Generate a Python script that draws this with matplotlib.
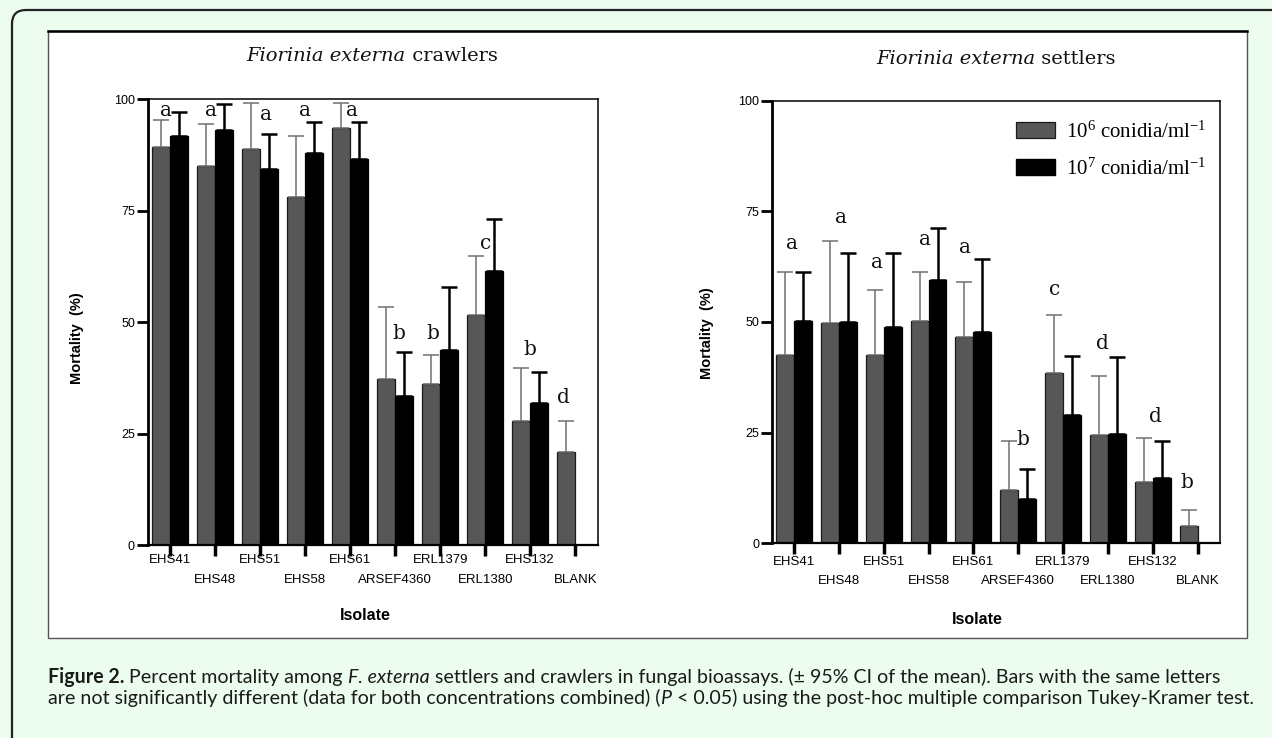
import matplotlib
matplotlib.use('Agg')
import matplotlib.pyplot as plt
import numpy as np
from matplotlib.transforms import IdentityTransform, blended_transform_factory, ScaledTranslation
import matplotlib.patches as mpatches
from matplotlib.lines import Line2D

plt.rcParams['mathtext.fontset'] = 'custom'
plt.rcParams['mathtext.rm'] = 'Liberation Serif'
plt.rcParams['mathtext.it'] = 'Liberation Serif:italic'
plt.rcParams['mathtext.bf'] = 'Liberation Serif:bold'

# ---------------- data ----------------
isolates = ['EHS41', 'EHS48', 'EHS51', 'EHS58', 'EHS61',
            'ARSEF4360', 'ERL1379', 'ERL1380', 'EHS132', 'BLANK']

# crawlers
crawl_e6 = [89.2, 85.0, 88.7, 78.1, 93.6, 37.2, 36.0, 51.6, 27.9, 20.9]
crawl_e6_ci = [6.1, 9.3, 10.5, 13.6, 5.6, 16.1, 6.5, 13.2, 11.7, 6.9]
crawl_e7 = [91.7, 93.0, 84.4, 87.8, 86.6, 33.3, 43.7, 61.5, 31.8]
crawl_e7_ci = [5.3, 5.8, 7.8, 7.1, 8.3, 10.0, 14.1, 11.7, 6.9]
crawl_letters = ['a', 'a', 'a', 'a', 'a', 'b', 'b', 'c', 'b', 'd']
crawl_letter_y = [96.3, 96.3, 95.4, 96.3, 96.3, 46.3, 46.3, 66.4, 42.6, 31.9]
crawl_letter_dx = [-0.08, -0.10, 0.13, 0.0, 0.05, 0.09, -0.17, 0.0, 0.0, -0.25]

# settlers
sett_e6 = [42.5, 49.7, 42.5, 50.3, 46.5, 12.1, 38.4, 24.4, 13.9, 3.9]
sett_e6_ci = [18.7, 18.5, 14.7, 11.1, 12.6, 11.0, 13.2, 13.5, 9.8, 3.6]
sett_e7 = [50.3, 49.9, 48.9, 59.5, 47.8, 10.1, 29.0, 24.7, 14.8]
sett_e7_ci = [10.9, 15.6, 16.6, 11.8, 16.4, 6.6, 13.4, 17.3, 8.3]
sett_letters = ['a', 'a', 'a', 'a', 'a', 'b', 'c', 'd', 'd', 'b']
sett_letter_y = [66.5, 72.4, 62.2, 67.5, 65.5, 22.3, 56.0, 43.8, 27.3, 12.6]
sett_letter_dx = [-0.05, 0.04, -0.15, -0.09, -0.19, 0.11, -0.18, -0.13, 0.07, -0.23]

yticks = [0, 25, 50, 75, 100]
legend_labels = [r'10$^{6}$ conidia/ml$^{-1}$', r'10$^{7}$ conidia/ml$^{-1}$']

# ---------------- figure ----------------
W, H = 1272, 738
MINT = '#ecfdef'
fig = plt.figure(figsize=(W / 100, H / 100), dpi=100)
fig.patch.set_facecolor(MINT)
PX = IdentityTransform()

outer = mpatches.FancyBboxPatch((12, -40), 1320, H - 10 + 40,
                                boxstyle='round,pad=0,rounding_size=14',
                                transform=PX, fc=MINT, ec='#222222', lw=1.6, zorder=-20)
fig.add_artist(outer)
inner = mpatches.Rectangle((48, H - 638), 1199, 607, transform=PX,
                           fc='white', ec='#555555', lw=1.0, zorder=-10)
fig.add_artist(inner)
fig.add_artist(Line2D([48, 1247], [H - 31, H - 31], transform=PX,
                      color='black', lw=1.8, zorder=-9))

GRAY = '#575757'


def panel(ax, e6, e6_ci, e7, e7_ci, letters, ly, ldx, row_off):
    x = np.arange(len(isolates))
    w = 0.4
    xh = x[:len(e7)]
    ax.bar(x - w / 2, e6, w, color=GRAY, edgecolor='#1a1a1a', linewidth=0.9, zorder=2)
    ax.bar(xh + w / 2, e7, w, color='black', edgecolor='black', linewidth=0.9, zorder=2)
    ax.errorbar(x - w / 2, e6, yerr=[np.zeros(len(e6)), e6_ci], fmt='none',
                ecolor='#707070', elinewidth=1.1, capsize=6, capthick=1.1, zorder=3)
    ax.errorbar(xh + w / 2, e7, yerr=[np.zeros(len(e7)), e7_ci], fmt='none',
                ecolor='black', elinewidth=1.8, capsize=6, capthick=1.8, zorder=3)
    for i, (lt, yy, dx) in enumerate(zip(letters, ly, ldx)):
        ax.text(x[i] + dx, yy, lt, ha='center', va='baseline',
                family='DejaVu Serif', fontsize=14.5, color='#111111')
    ax.set_xlim(-0.5, 9.5)
    ax.set_ylim(0, 100)
    ax.set_yticks(yticks)
    ax.set_yticklabels([str(t) for t in yticks], family='Liberation Sans', fontsize=9)
    ax.tick_params(axis='y', direction='out', length=8, width=2, pad=1)
    ax.set_xticks(x)
    ax.set_xticklabels([])
    ax.tick_params(axis='x', direction='out', length=8, width=2.5)
    ax.spines['left'].set_linewidth(2.0)
    ax.spines['bottom'].set_linewidth(1.6)
    ax.spines['top'].set_linewidth(1.1)
    ax.spines['right'].set_linewidth(1.1)
    base = blended_transform_factory(ax.transData, ax.transAxes)
    for i, name in enumerate(isolates):
        off = row_off[i % 2]
        tr = base + ScaledTranslation(0, -off / 100, fig.dpi_scale_trans)
        ax.text(x[i], 0, name, transform=tr, ha='center', va='center',
                family='Liberation Sans', fontsize=9.5)


axL = fig.add_axes([147.5 / W, (H - 545) / H, 450.2 / W, 446 / H])
axR = fig.add_axes([771.6 / W, (H - 543.3) / H, 448.4 / W, 442.6 / H])
panel(axL, crawl_e6, crawl_e6_ci, crawl_e7, crawl_e7_ci,
      crawl_letters, crawl_letter_y, crawl_letter_dx, (15, 35))
panel(axR, sett_e6, sett_e6_ci, sett_e7, sett_e7_ci,
      sett_letters, sett_letter_y, sett_letter_dx, (19, 38))

axR.legend(handles=[mpatches.Patch(fc=GRAY, ec='#1a1a1a', lw=0.9),
                    mpatches.Patch(fc='black', ec='black')],
           labels=legend_labels, prop={'family': 'Liberation Serif', 'size': 15},
           frameon=False, handlelength=1.9, handleheight=0.8, handletextpad=0.5,
           labelspacing=0.75, loc='upper right',
           bbox_to_anchor=(1206 / W, (H - 121.5) / H), bbox_transform=fig.transFigure,
           borderaxespad=0, borderpad=0)

# axis labels
for cx, cy in [(365, 615), (977, 620)]:
    fig.text(cx, H - cy, 'Isolate', transform=PX, ha='center', va='center',
             family='Liberation Sans', fontweight='bold', fontsize=11.5)
for cx, cy in [(77, 338), (707, 333)]:
    fig.text(cx, H - cy, 'Mortality  (%)', transform=PX, ha='center', va='center',
             rotation=90, family='Liberation Sans', fontweight='bold', fontsize=10.5)

renderer = fig.canvas.get_renderer()


def measure(s, size, kw):
    t = fig.text(0, 0, '|' + s + '|', fontsize=size, **kw)
    w1 = t.get_window_extent(renderer).width
    t.remove()
    t = fig.text(0, 0, '||', fontsize=size, **kw)
    w0 = t.get_window_extent(renderer).width
    t.remove()
    return w1 - w0


def runs_width(runs, size):
    return sum(measure(s, size, kw) for s, kw in runs)


def draw_runs(x, y, runs, size, ha='left', color='#111111'):
    widths = [measure(s, size, kw) for s, kw in runs]
    if ha == 'center':
        x -= sum(widths) / 2
    for (s, kw), w in zip(runs, widths):
        fig.text(x, y, s, transform=PX, fontsize=size, va='baseline', ha='left',
                 color=color, **kw)
        x += w


# titles
SER_I = {'family': 'DejaVu Serif', 'style': 'italic'}
SER = {'family': 'DejaVu Serif'}
tl = [('Fiorinia externa', SER_I), (' crawlers', SER)]
tr_ = [('Fiorinia externa', SER_I), (' settlers', SER)]
tsize = 12 * 250 / runs_width(tl, 12)
draw_runs(372, H - 61, tl, tsize, ha='center')
draw_runs(996, H - 63.5, tr_, tsize, ha='center')

# caption
REG = {'family': 'Lato'}
BLD = {'family': 'Lato', 'fontweight': 'bold'}
ITA = {'family': 'Lato', 'style': 'italic'}
line1 = [('Figure 2.', BLD), (' Percent mortality among ', REG), ('F. externa', ITA),
         (' settlers and crawlers in fungal bioassays. (\u00b1 95% CI of the mean). '
          'Bars with the same letters', REG)]
line2 = [('are not significantly different (data for both concentrations combined) (', REG),
         ('P', ITA),
         (' < 0.05) using the post-hoc multiple comparison Tukey-Kramer test.', REG)]
csize = 12 * 1202 / runs_width(line2, 12)
draw_runs(48, H - 683, line1, csize, color='#1a1a1a')
draw_runs(48, H - 704, line2, csize, color='#1a1a1a')

fig.savefig('out.png', dpi=100, facecolor=MINT)
